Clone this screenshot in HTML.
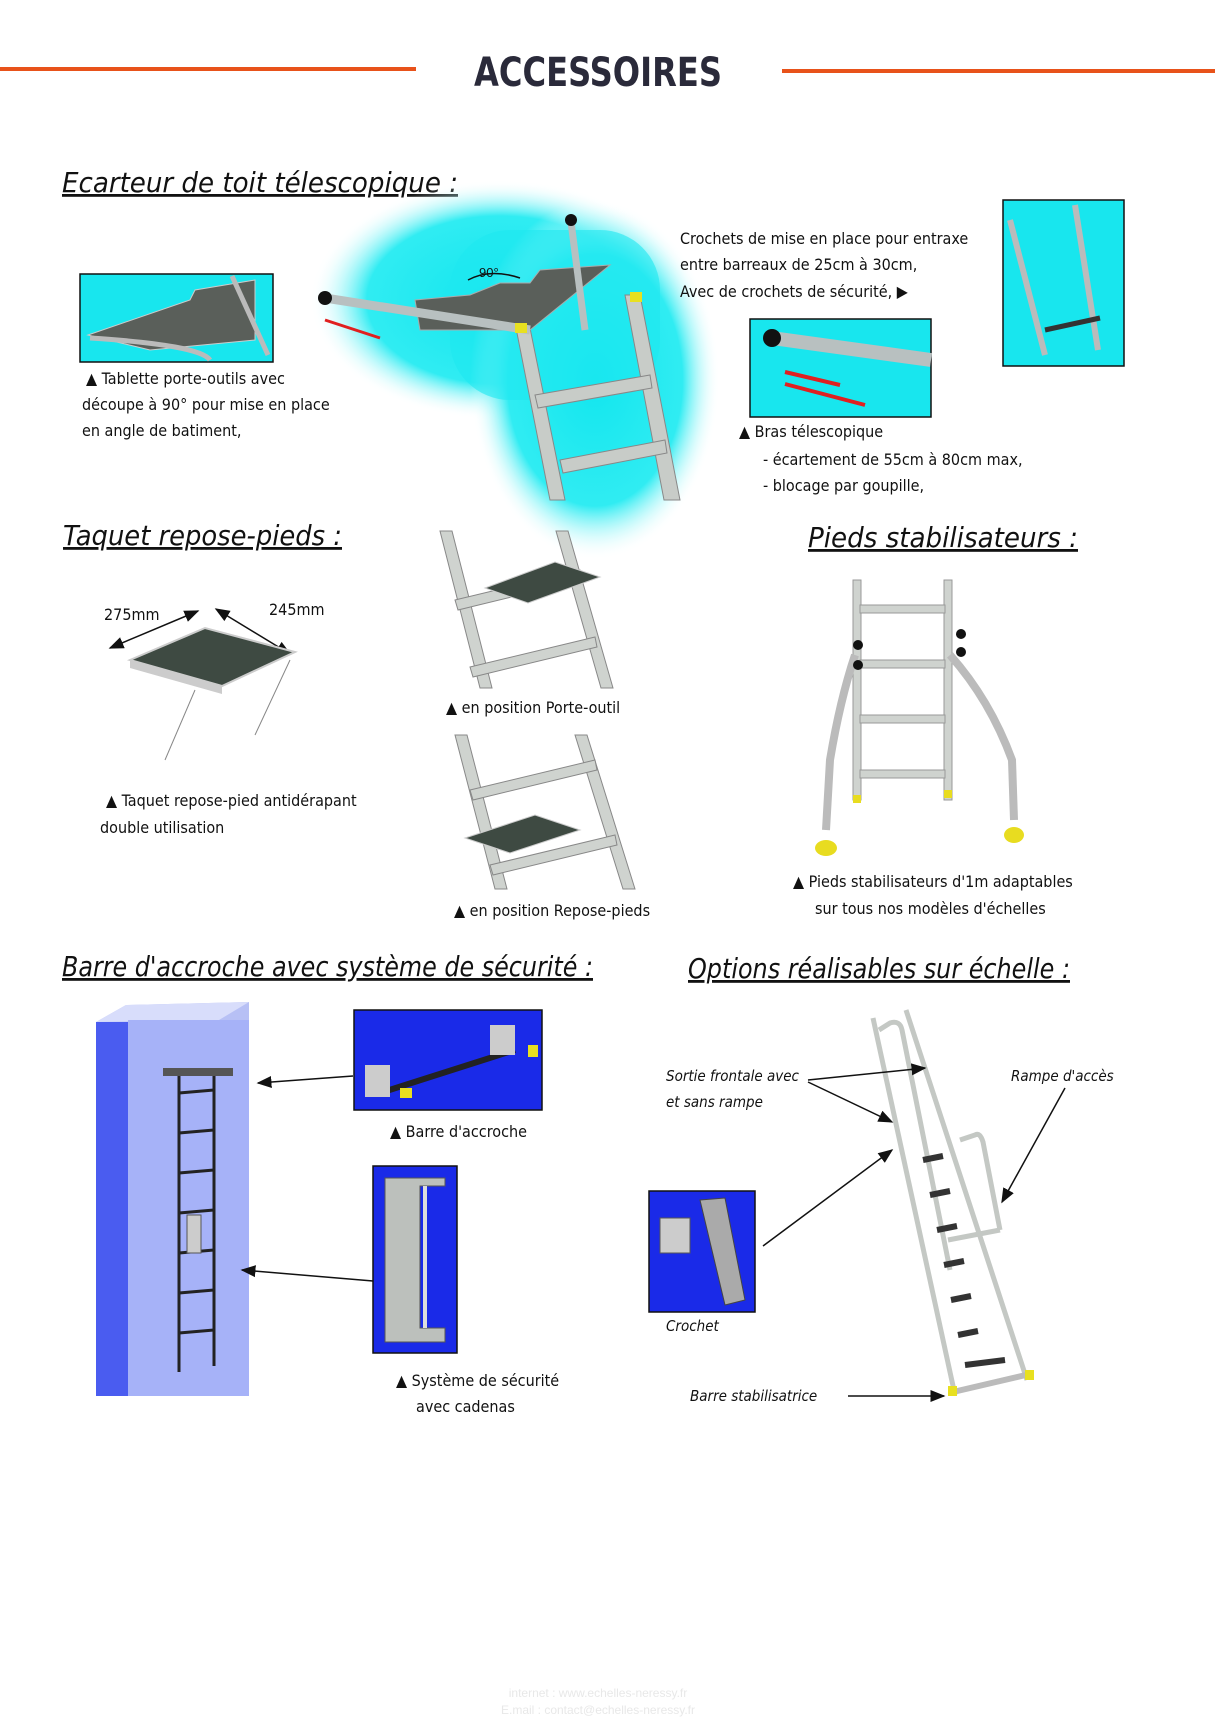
<!DOCTYPE html>
<html><head><meta charset="utf-8"><style>
html,body{margin:0;padding:0;background:#fff}
svg{display:block}
.t{font-family:"Liberation Sans Narrow","DejaVu Sans Condensed","Liberation Sans",sans-serif;font-size:16px;fill:#111}
.h{font-family:"DejaVu Sans Condensed","Liberation Sans",sans-serif;font-style:italic;font-size:28px;fill:#111;text-decoration:underline}
.i{font-family:"DejaVu Sans Condensed","Liberation Sans",sans-serif;font-style:italic;font-size:15px;fill:#111}
</style></head><body>
<svg width="1215" height="1717" viewBox="0 0 1215 1717" xmlns="http://www.w3.org/2000/svg">
<defs>
<radialGradient id="glow" cx="0.5" cy="0.5" r="0.5">
<stop offset="0" stop-color="#12e6ee"/><stop offset="0.7" stop-color="#30ecf2"/><stop offset="1" stop-color="#fff" stop-opacity="0"/></radialGradient>
<marker id="ar" markerWidth="10" markerHeight="10" refX="9" refY="5" orient="auto-start-reverse"><path d="M0,1 L10,5 L0,9 z" fill="#111"/></marker>
</defs>
<!-- header -->
<rect x="0" y="67" width="416" height="4" fill="#e8521a"/>
<rect x="782" y="69" width="433" height="4" fill="#e8521a"/>
<text x="598" y="86" text-anchor="middle" textLength="248" lengthAdjust="spacingAndGlyphs" font-family="Liberation Sans Narrow,DejaVu Sans Condensed,sans-serif" font-weight="bold" font-size="40" fill="#2a2a3a">ACCESSOIRES</text>

<text class="h" x="62" y="192" textLength="396" lengthAdjust="spacingAndGlyphs">Ecarteur de toit télescopique :</text>
<!-- glow -->
<ellipse cx="500" cy="300" rx="190" ry="120" fill="url(#glow)"/>
<ellipse cx="595" cy="380" rx="125" ry="180" fill="url(#glow)"/>
<rect x="450" y="230" width="210" height="170" fill="#1ee8f0" opacity="0.6" rx="60"/>
<!-- main ladder -->
<g fill="#c8ccc8" stroke="#888" stroke-width="1">
<polygon points="516,328 530,328 565,500 550,500"/>
<polygon points="625,295 640,295 680,500 664,500"/>
<polygon points="535,395 650,375 652,388 538,408"/>
<polygon points="560,460 665,440 667,453 563,473"/>
</g>
<polygon points="415,300 470,295 500,283 530,283 540,270 610,265 530,330 420,330" fill="#5a5f5a" stroke="#aaa"/>
<line x1="325" y1="298" x2="530" y2="330" stroke="#b8c0c0" stroke-width="9"/>
<circle cx="325" cy="298" r="7" fill="#111"/>
<line x1="571" y1="222" x2="585" y2="330" stroke="#b8c0c0" stroke-width="7"/>
<circle cx="571" cy="220" r="6" fill="#111"/>
<rect x="515" y="323" width="12" height="10" fill="#e8e020"/><rect x="630" y="292" width="12" height="10" fill="#e8e020"/>
<path d="M468 280 Q490 268 520 278" fill="none" stroke="#111" stroke-width="1.5"/>
<text x="479" y="277" font-family="Liberation Sans" font-size="13" fill="#111">90°</text>
<line x1="325" y1="320" x2="380" y2="338" stroke="#e02020" stroke-width="3"/>
<!-- left box -->
<rect x="80" y="274" width="193" height="88" fill="#18e6ee" stroke="#111" stroke-width="1.5"/>
<polygon points="88,335 190,300 195,290 255,280 255,340 150,350" fill="#5a5f5a" stroke="#ccc"/>
<path d="M90 338 Q200 345 210 360" fill="none" stroke="#bbb" stroke-width="5"/>
<line x1="232" y1="276" x2="268" y2="355" stroke="#bbb" stroke-width="5"/>
<text class="t" x="86" y="384">▲ Tablette porte-outils avec</text>
<text class="t" x="82" y="410">découpe à 90° pour mise en place</text>
<text class="t" x="82" y="436">en angle de batiment,</text>
<!-- right text -->
<text class="t" x="680" y="244">Crochets de mise en place pour entraxe</text>
<text class="t" x="680" y="270">entre barreaux de 25cm à 30cm,</text>
<text class="t" x="680" y="297">Avec de crochets de sécurité,  ▶</text>
<rect x="1003" y="200" width="121" height="166" fill="#18e6ee" stroke="#111" stroke-width="1.5"/>
<line x1="1010" y1="220" x2="1045" y2="355" stroke="#bbb" stroke-width="6"/>
<line x1="1075" y1="205" x2="1098" y2="350" stroke="#bbb" stroke-width="6"/>
<line x1="1045" y1="330" x2="1100" y2="318" stroke="#333" stroke-width="5"/>
<rect x="750" y="319" width="181" height="98" fill="#18e6ee" stroke="#111" stroke-width="1.5"/>
<line x1="772" y1="338" x2="931" y2="360" stroke="#b8c0c0" stroke-width="14"/>
<circle cx="772" cy="338" r="9" fill="#111"/>
<line x1="785" y1="372" x2="840" y2="385" stroke="#e02020" stroke-width="4"/>
<line x1="785" y1="384" x2="865" y2="405" stroke="#e02020" stroke-width="4"/>
<text class="t" x="739" y="437">▲ Bras télescopique</text>
<text class="t" x="763" y="465">- écartement de 55cm à 80cm max,</text>
<text class="t" x="763" y="491">- blocage par goupille,</text>

<!-- Taquet -->
<text class="h" x="63" y="545" textLength="279" lengthAdjust="spacingAndGlyphs">Taquet repose-pieds :</text>
<text class="t" x="104" y="620">275mm</text>
<text class="t" x="269" y="615">245mm</text>
<line x1="110" y1="648" x2="198" y2="611" stroke="#111" stroke-width="1.5" marker-end="url(#ar)" marker-start="url(#ar)"/>
<line x1="216" y1="609" x2="290" y2="654" stroke="#111" stroke-width="1.5" marker-end="url(#ar)" marker-start="url(#ar)"/>
<polygon points="130,660 205,628 295,652 222,686" fill="#3e4a42" stroke="#ccc" stroke-width="2"/>
<polygon points="130,660 222,686 222,694 130,668" fill="#ccc"/>
<line x1="195" y1="690" x2="165" y2="760" stroke="#888"/><line x1="290" y1="660" x2="255" y2="735" stroke="#888"/>
<text class="t" x="106" y="806">▲ Taquet repose-pied antidérapant</text>
<text class="t" x="100" y="833">double utilisation</text>
<!-- middle ladders -->
<g fill="#cfd3cf" stroke="#888">
<polygon points="440,531 452,531 492,688 480,688"/><polygon points="556,531 568,531 613,688 601,688"/>
<polygon points="455,600 580,570 582,580 458,610"/>
<polygon points="470,667 595,637 597,647 473,677"/>
<polygon points="455,735 467,735 507,889 495,889"/><polygon points="575,735 587,735 635,889 623,889"/>
<polygon points="470,790 595,760 597,770 473,800"/>
<polygon points="490,865 615,835 617,845 493,875"/>
</g>
<polygon points="485,588 555,562 600,577 528,603" fill="#3e4a42" stroke="#ccc"/>
<polygon points="465,838 535,815 580,830 510,853" fill="#3e4a42" stroke="#ccc"/>
<text class="t" x="446" y="713">▲ en position Porte-outil</text>
<text class="t" x="454" y="916">▲ en position Repose-pieds</text>
<!-- stabilisateurs -->
<text class="h" x="808" y="547" textLength="270" lengthAdjust="spacingAndGlyphs">Pieds stabilisateurs :</text>
<g fill="#cfd3cf" stroke="#999">
<rect x="853" y="580" width="8" height="220"/><rect x="944" y="580" width="8" height="220"/>
<rect x="860" y="605" width="85" height="8"/><rect x="860" y="660" width="85" height="8"/><rect x="860" y="715" width="85" height="8"/><rect x="860" y="770" width="85" height="8"/>
</g>
<path d="M855 655 Q840 700 830 760 L826 830" fill="none" stroke="#bbb" stroke-width="8"/>
<path d="M950 655 Q990 700 1012 760 L1014 820" fill="none" stroke="#bbb" stroke-width="8"/>
<ellipse cx="826" cy="848" rx="11" ry="8" fill="#e8dc20"/><ellipse cx="1014" cy="835" rx="10" ry="8" fill="#e8dc20"/>
<rect x="853" y="795" width="8" height="8" fill="#e8dc20"/><rect x="944" y="790" width="8" height="8" fill="#e8dc20"/>
<circle cx="858" cy="645" r="5" fill="#111"/><circle cx="858" cy="665" r="5" fill="#111"/><circle cx="961" cy="634" r="5" fill="#111"/><circle cx="961" cy="652" r="5" fill="#111"/>
<text class="t" x="793" y="887">▲ Pieds stabilisateurs d'1m adaptables</text>
<text class="t" x="815" y="914">sur tous nos modèles d'échelles</text>

<!-- Barre d'accroche -->
<text class="h" x="62" y="976" textLength="531" lengthAdjust="spacingAndGlyphs">Barre d'accroche avec système de sécurité :</text>
<polygon points="96,1022 126,1005 249,1002 249,1380 126,1396 96,1396" fill="#b7c0f5"/>
<polygon points="96,1022 126,1005 249,1002 219,1020" fill="#d8ddfb"/>
<rect x="128" y="1020" width="121" height="376" fill="#a6b2f8"/>
<rect x="96" y="1022" width="32" height="374" fill="#4a5cf0"/>
<g stroke="#222" stroke-width="3">
<line x1="179" y1="1072" x2="179" y2="1372"/><line x1="214" y1="1068" x2="214" y2="1366"/>
<line x1="179" y1="1093" x2="214" y2="1090"/><line x1="179" y1="1133" x2="214" y2="1130"/><line x1="179" y1="1173" x2="214" y2="1170"/><line x1="179" y1="1213" x2="214" y2="1210"/><line x1="179" y1="1253" x2="214" y2="1250"/><line x1="179" y1="1293" x2="214" y2="1290"/><line x1="179" y1="1333" x2="214" y2="1330"/>
</g>
<rect x="163" y="1068" width="70" height="8" fill="#555"/>
<rect x="187" y="1215" width="14" height="38" fill="#ccc" stroke="#555"/>
<rect x="354" y="1010" width="188" height="100" fill="#1a2ae8" stroke="#111" stroke-width="1.5"/>
<line x1="380" y1="1093" x2="515" y2="1050" stroke="#222" stroke-width="6"/>
<rect x="365" y="1065" width="25" height="32" fill="#ccc"/><rect x="490" y="1025" width="25" height="30" fill="#ccc"/>
<rect x="400" y="1088" width="12" height="10" fill="#e8e020"/><rect x="528" y="1045" width="10" height="12" fill="#e8e020"/>
<text class="t" x="390" y="1137">▲ Barre d'accroche</text>
<rect x="373" y="1166" width="84" height="187" fill="#1a2ae8" stroke="#111" stroke-width="1.5"/>
<polygon points="385,1178 445,1178 445,1186 420,1186 420,1328 445,1328 445,1342 385,1342" fill="#bcc0bc" stroke="#555"/>
<rect x="423" y="1186" width="4" height="142" fill="#ddd"/>
<text class="t" x="396" y="1386">▲ Système de sécurité</text>
<text class="t" x="416" y="1412">avec cadenas</text>
<line x1="353" y1="1076" x2="258" y2="1083" stroke="#111" stroke-width="1.5" marker-end="url(#ar)"/>
<line x1="373" y1="1281" x2="242" y2="1270" stroke="#111" stroke-width="1.5" marker-end="url(#ar)"/>

<!-- Options -->
<text class="h" x="688" y="978" textLength="382" lengthAdjust="spacingAndGlyphs">Options réalisables sur échelle :</text>
<g stroke="#c4c8c4" stroke-width="5" fill="none">
<line x1="873" y1="1018" x2="955" y2="1395"/><line x1="906" y1="1010" x2="1027" y2="1380"/>
<path d="M879 1030 L890 1023 Q900 1020 902 1030 L950 1270"/>
<path d="M948 1240 L1000 1230 M960 1140 L975 1135 Q980 1132 983 1142 L1000 1230"/>
</g>
<g stroke="#333" stroke-width="6">
<line x1="923" y1="1160" x2="943" y2="1156"/><line x1="930" y1="1195" x2="950" y2="1191"/><line x1="937" y1="1230" x2="957" y2="1226"/><line x1="944" y1="1265" x2="964" y2="1261"/><line x1="951" y1="1300" x2="971" y2="1296"/><line x1="958" y1="1335" x2="978" y2="1331"/><line x1="965" y1="1365" x2="1005" y2="1360"/>
</g>
<line x1="953" y1="1392" x2="1030" y2="1374" stroke="#bbb" stroke-width="6"/>
<rect x="948" y="1386" width="9" height="10" fill="#e8e020"/><rect x="1025" y="1370" width="9" height="10" fill="#e8e020"/>
<rect x="649" y="1191" width="106" height="121" fill="#1a2ae8" stroke="#111" stroke-width="1.5"/>
<polygon points="700,1200 725,1198 745,1300 725,1305" fill="#aaa" stroke="#444"/>
<rect x="660" y="1218" width="30" height="35" fill="#ccc" stroke="#555"/>
<text class="i" x="666" y="1331">Crochet</text>
<text class="i" x="666" y="1081">Sortie frontale avec</text>
<text class="i" x="666" y="1107">et sans rampe</text>
<text class="i" x="1011" y="1081">Rampe d'accès</text>
<text class="i" x="690" y="1401">Barre stabilisatrice</text>
<g stroke="#111" stroke-width="1.5">
<line x1="808" y1="1080" x2="925" y2="1068" marker-end="url(#ar)"/>
<line x1="808" y1="1082" x2="892" y2="1122" marker-end="url(#ar)"/>
<line x1="763" y1="1246" x2="892" y2="1150" marker-end="url(#ar)"/>
<line x1="1065" y1="1088" x2="1002" y2="1202" marker-end="url(#ar)"/>
<line x1="848" y1="1396" x2="944" y2="1396" marker-end="url(#ar)"/>
</g>
<!-- footer -->
<text x="598" y="1697" text-anchor="middle" font-family="Liberation Sans Narrow,sans-serif" font-size="12" fill="#e8e8e8">internet : www.echelles-neressy.fr</text>
<text x="598" y="1714" text-anchor="middle" font-family="Liberation Sans Narrow,sans-serif" font-size="12" fill="#e8e8e8">E.mail : contact@echelles-neressy.fr</text>
</svg>
</body></html>
